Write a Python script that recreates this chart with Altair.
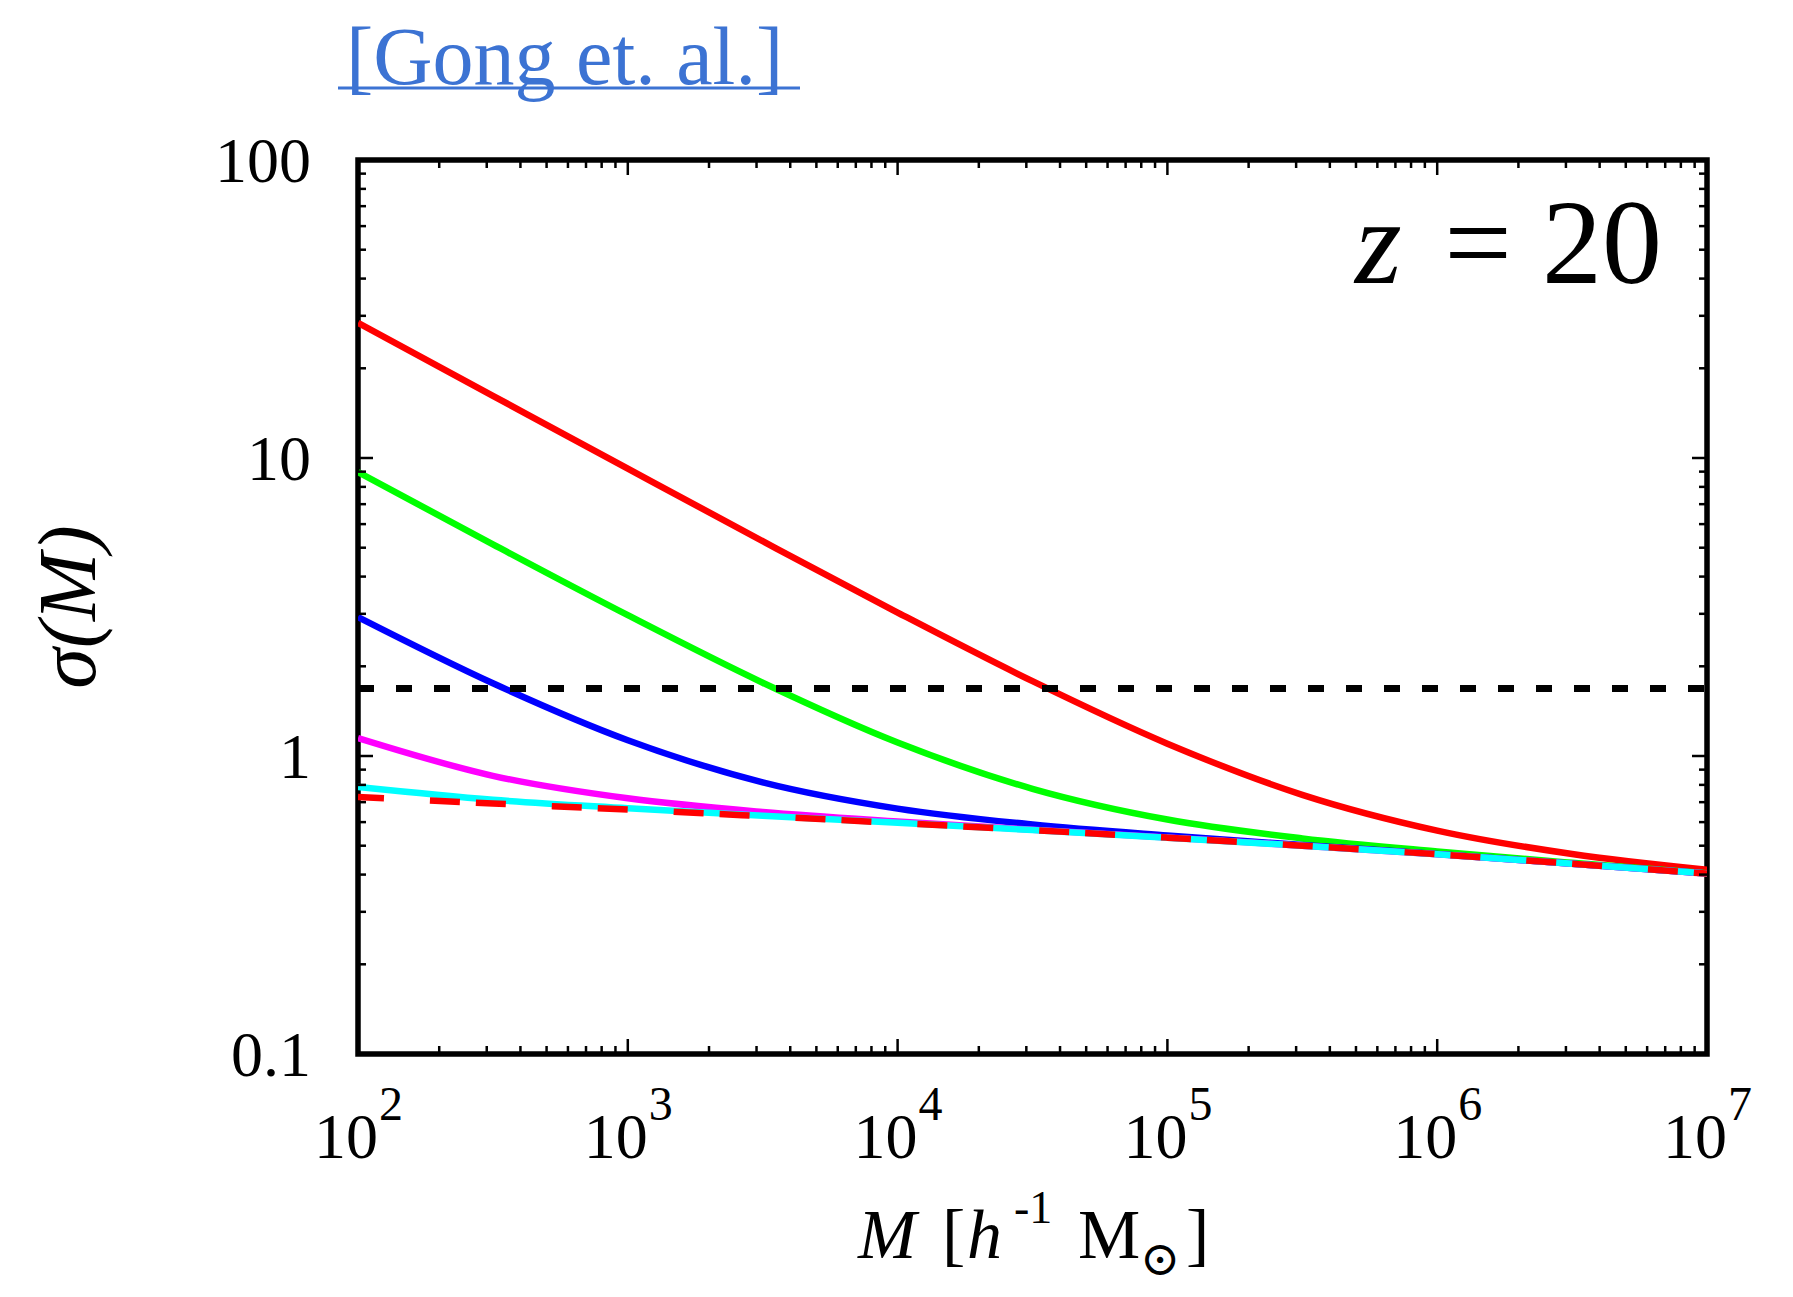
import altair as alt
import pandas as pd

# ---- data (sigma(M) at z = 20) ----
M = [1e2, 3.162e2, 1e3, 3.162e3, 1e4, 3.162e4, 1e5, 3.162e5, 1e6, 3.162e6, 1e7]
sigma_red = [28.40, 16.17, 9.21, 5.26, 3.03, 1.783, 1.100, 0.741, 0.562, 0.469, 0.415]
sigma_green = [8.97, 5.13, 2.968, 1.762, 1.110, 0.776, 0.612, 0.529, 0.478, 0.438, 0.404]
sigma_blue = [2.926, 1.755, 1.130, 0.816, 0.666, 0.589, 0.541, 0.503, 0.469, 0.435, 0.403]
sigma_magenta = [1.149, 0.858, 0.721, 0.649, 0.603, 0.566, 0.533, 0.500, 0.468, 0.435, 0.403]
sigma_cyan = [0.787, 0.713, 0.668, 0.630, 0.597, 0.564, 0.532, 0.500, 0.468, 0.435, 0.403]
sigma_cdm = [0.728, 0.693, 0.661, 0.628, 0.596, 0.564, 0.532, 0.500, 0.468, 0.435, 0.403]
delta_c = 1.686
M_ends = [1e2, 1e7]

x_major = [1e2, 1e3, 1e4, 1e5, 1e6, 1e7]
x_exps = ["2", "3", "4", "5", "6", "7"]
x_minor = [k * 10 ** d for d in range(2, 7) for k in range(2, 10)]
y_major = [0.1, 1, 10, 100]
y_labels = ["0.1", "1", "10", "100"]
y_minor = [k * 10 ** d for d in (-1, 0, 1) for k in range(2, 10)]

title_text = "[Gong et. al.]"
z_text = "z"
z_val = "= 20"

W, H = 1349, 894
SERIF = "Liberation Serif"

xs = alt.Scale(type="log", domain=[1e2, 1e7], nice=False)
ys = alt.Scale(type="log", domain=[0.1, 100], nice=False)


def curve(vals, color, dash=None, width=6.5, offset=0):
    df = pd.DataFrame({"M": M if len(vals) == len(M) else M_ends, "sigma": vals})
    kw = dict(color=color, strokeWidth=width, interpolate="monotone", clip=True)
    if dash:
        kw["strokeDash"] = dash
        kw["strokeDashOffset"] = offset
    return alt.Chart(df).mark_line(**kw).encode(
        x=alt.X("M:Q", scale=xs, axis=None),
        y=alt.Y("sigma:Q", scale=ys, axis=None),
    )


def xticks(vals, y0, y1):
    return alt.Chart(pd.DataFrame({"v": vals})).mark_rule(color="black", strokeWidth=2.5).encode(
        x=alt.X("v:Q", scale=xs, axis=None), y=alt.value(y0), y2=alt.value(y1)
    )


def yticks(vals, x0, x1):
    return alt.Chart(pd.DataFrame({"v": vals})).mark_rule(color="black", strokeWidth=2.5).encode(
        y=alt.Y("v:Q", scale=ys, axis=None), x=alt.value(x0), x2=alt.value(x1)
    )


def note(text, x, y, size, align="left", style="normal", color="black", font=SERIF, baseline="alphabetic", angle=0):
    return alt.Chart(pd.DataFrame({"t": [text]})).mark_text(
        align=align, baseline=baseline, fontSize=size, fontStyle=style, color=color, font=font, angle=angle
    ).encode(x=alt.value(x), y=alt.value(y), text="t:N")


MAJ, MIN = 15, 8
layers = [
    curve(sigma_red, "#ff0000"),
    curve(sigma_green, "#00ff00"),
    curve(sigma_blue, "#0000ff"),
    curve(sigma_magenta, "#ff00ff"),
    curve(sigma_cyan, "#00ffff"),
    curve(sigma_cdm, "#ff0000", dash=[30, 46, 30, 16], offset=4),
    curve([delta_c, delta_c], "#000000", dash=[16, 22], width=7),
    xticks(x_major, H, H - MAJ), xticks(x_minor, H, H - MIN),
    xticks(x_major, 0, MAJ), xticks(x_minor, 0, MIN),
    yticks(y_major, 0, MAJ), yticks(y_minor, 0, MIN),
    yticks(y_major, W, W - MAJ), yticks(y_minor, W, W - MIN),
]

# x tick labels: 10^k
xl = pd.DataFrame({"v": x_major, "e": x_exps})
layers.append(alt.Chart(xl).mark_text(text="10", align="right", dx=20, fontSize=64, font=SERIF,
                                      baseline="alphabetic", color="black").encode(
    x=alt.X("v:Q", scale=xs, axis=None), y=alt.value(H + 104)))
layers.append(alt.Chart(xl).mark_text(align="left", dx=21, fontSize=48, font=SERIF,
                                      baseline="alphabetic", color="black").encode(
    x=alt.X("v:Q", scale=xs, axis=None), y=alt.value(H + 66), text="e:N"))

# y tick labels
yl = pd.DataFrame({"v": y_major, "lab": y_labels})
layers.append(alt.Chart(yl).mark_text(align="right", baseline="middle", fontSize=64, font=SERIF,
                                      color="black", dy=3).encode(
    y=alt.Y("v:Q", scale=ys, axis=None), x=alt.value(-47), text="lab:N"))

# y axis title
layers.append(note("σ(M)", -288, H / 2, 82, align="center", style="italic", baseline="middle", angle=270))

# x axis title: M [h^-1 M_sun]
layers += [
    note("M", 500, 1098, 70, style="italic"),
    note("[", 584, 1098, 70),
    note("h", 609, 1098, 70, style="italic"),
    note("-1", 656, 1063, 46),
    note("M", 720, 1098, 70),
    note("⊙", 802, 1101, 48, align="center", font="DejaVu Serif", baseline="middle"),
    note("]", 828, 1098, 70),
]

# z = 20 annotation
layers += [
    note(z_text, 997, 123, 120, style="italic"),
    note(z_val, 1304, 123, 120, align="right"),
]

# citation title with underline
layers.append(note(title_text, -12, -76, 82, color="#3c73d3"))
layers.append(alt.Chart(pd.DataFrame({"a": [0]})).mark_rule(color="#3c73d3", strokeWidth=3).encode(
    x=alt.value(-20), x2=alt.value(442), y=alt.value(-72)))

chart = alt.layer(*layers).properties(
    width=W, height=H,
    autosize=alt.AutoSizeParams(type="none"),
    padding={"left": 350, "top": 152, "right": 70, "bottom": 240},
    background="white",
).configure_view(stroke="black", strokeWidth=5.5)

chart.save("out.html", embed_options={"renderer": "svg", "actions": False})
